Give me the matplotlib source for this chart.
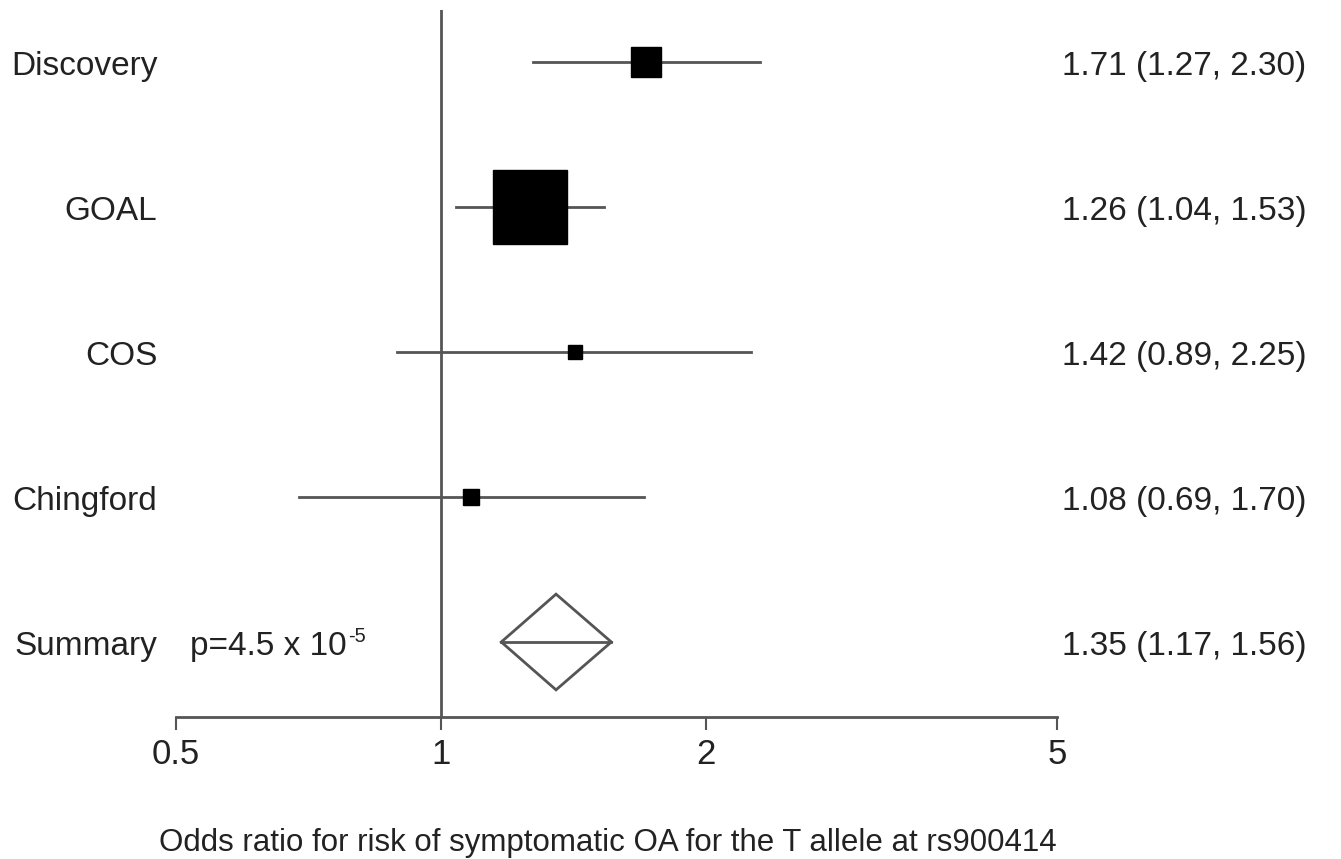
import matplotlib
matplotlib.use("Agg")
import matplotlib.pyplot as plt
from matplotlib import font_manager
from matplotlib.transforms import blended_transform_factory, offset_copy

studies = ["Discovery", "GOAL", "COS", "Chingford"]
estimates = [1.71, 1.26, 1.42, 1.08]
lower = [1.27, 1.04, 0.89, 0.69]
upper = [2.30, 1.53, 2.25, 1.70]
weights = [21, 53, 10, 11.5]  # relative box sizes (points)
summary_label = "Summary"
summary_est, summary_lo, summary_hi = 1.35, 1.17, 1.56
p_main = "p=4.5 x 10"
p_exp = "-5"
xticks = [0.5, 1, 2, 5]
xtick_labels = ["0.5", "1", "2", "5"]
xlabel = "Odds ratio for risk of symptomatic OA for the T allele at rs900414"

plt.rcParams['font.family'] = ['Liberation Sans', 'DejaVu Sans']

names = {f.name for f in font_manager.fontManager.ttflist}
tick_family = ['Liberation Sans Narrow'] if 'Liberation Sans Narrow' in names else ['Liberation Sans']

W, H = 1341, 859
fig = plt.figure(figsize=(W/100, H/100), dpi=100)
ax = fig.add_axes([176/W, 1-717/H, (1057-176)/W, (717-10)/H])
ax.set_xscale('log')
ax.set_xlim(0.5, 5)
n = len(studies)
rows = list(range(n + 1, 0, -1))  # 5..1
ax.set_ylim(1 - (717-642)/145, n + 1 + (62-10)/145)

line_col = '#555555'
txt_col = '#222222'
fs = 24

ax.axvline(1, color=line_col, lw=2, zorder=1)

for i, s in enumerate(studies):
    y = rows[i]
    ax.plot([lower[i], upper[i]], [y, y], color=line_col, lw=2, zorder=2)
    ax.plot([estimates[i]], [y], marker='s', ms=weights[i], color='black',
            mec='black', zorder=3, linestyle='none')

ys = rows[n]
hd = 0.33
ax.fill([summary_lo, summary_est, summary_hi, summary_est],
        [ys, ys + hd, ys, ys - hd], facecolor='white', edgecolor=line_col,
        lw=2, zorder=3)
ax.plot([summary_lo, summary_hi], [ys, ys], color=line_col, lw=2, zorder=4)

trans = blended_transform_factory(ax.transAxes, ax.transData)
ttrans = offset_copy(trans, fig=fig, x=0, y=-3, units='points')
labels = studies + [summary_label]
ci_texts = [f"{e:.2f} ({l:.2f}, {u:.2f})" for e, l, u in zip(estimates, lower, upper)]
ci_texts.append(f"{summary_est:.2f} ({summary_lo:.2f}, {summary_hi:.2f})")
for y, lab, ct in zip(rows, labels, ci_texts):
    ax.text(-0.021, y, lab, transform=ttrans, ha='right', va='center',
            fontsize=fs, color=txt_col)
    ax.text(1.006, y, ct, transform=ttrans, ha='left', va='center',
            fontsize=fs, color=txt_col)
pt = ax.text(0.016, ys, p_main, transform=ttrans, ha='left', va='center',
             fontsize=fs, color=txt_col)
fig.canvas.draw()
bb = pt.get_window_extent()
ax.annotate(p_exp, xy=(bb.x1, bb.y1), xycoords='figure pixels',
            xytext=(1, -4), textcoords='offset points', ha='left', va='center',
            fontsize=fs * 0.6, color=txt_col)

for sp in ['top', 'right', 'left']:
    ax.spines[sp].set_visible(False)
ax.spines['bottom'].set_color(line_col)
ax.spines['bottom'].set_linewidth(2)
ax.set_yticks([])
ax.set_xticks(xticks)
ax.set_xticklabels(xtick_labels, family=tick_family)
ax.xaxis.set_minor_locator(matplotlib.ticker.NullLocator())
ax.tick_params(axis='x', direction='out', length=9, width=1.5, color=line_col,
               labelsize=25, labelcolor=txt_col, pad=6)

fig.text(608/W, 1-843/H, xlabel, ha='center', va='center', fontsize=22.5, color=txt_col)

fig.savefig("out.png", dpi=100, facecolor='white')
